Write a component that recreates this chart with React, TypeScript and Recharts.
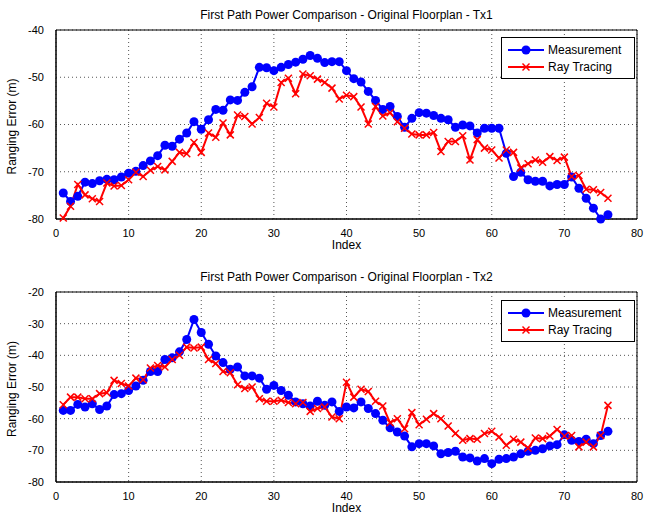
import { LineChart, Line, XAxis, YAxis, CartesianGrid, ReferenceArea } from 'recharts';

const indexes = Array.from({ length: 76 }, (_, i) => i + 1);

const measTx1 = [
    -74.5, -76.3, -75.2, -72.2, -72.5, -71.9, -71.6, -71.7, -71.1, -70.3,
    -69.9, -68.7, -67.7, -66.6, -64.4, -64.6, -63.1, -61.8, -59.4, -61.0,
    -59.0, -56.8, -57.0, -54.8, -54.9, -53.2, -52.0, -47.9, -48.0, -48.6,
    -47.9, -47.3, -46.8, -46.2, -45.4, -46.0, -46.9, -46.7, -46.7, -48.6,
    -50.3, -51.0, -53.0, -54.9, -56.8, -56.2, -58.3, -60.6, -58.7, -57.5,
    -57.6, -58.1, -58.7, -59.0, -60.6, -60.1, -60.3, -61.8, -60.8, -60.8,
    -60.8, -66.1, -71.0, -70.1, -71.7, -72.0, -72.0, -73.0, -72.7, -72.7,
    -71.1, -73.5, -75.6, -77.7, -80.0, -79.1,
];

const rayTx1 = [
    -79.8, -77.3, -72.7, -74.9, -75.7, -76.3, -72.4, -73.0, -72.9, -71.7,
    -70.1, -71.0, -69.7, -68.9, -69.6, -67.8, -65.9, -66.2, -63.8, -65.9,
    -61.8, -62.7, -59.7, -62.2, -58.0, -58.3, -59.9, -58.5, -55.5, -56.3,
    -51.1, -50.2, -53.5, -49.3, -49.7, -50.4, -51.1, -52.3, -54.6, -53.8,
    -54.1, -56.3, -59.9, -56.2, -58.2, -57.5, -59.4, -60.8, -62.0, -62.2,
    -62.2, -61.7, -65.7, -63.6, -63.6, -62.4, -67.5, -63.2, -65.0, -65.4,
    -67.1, -65.4, -65.9, -69.2, -68.3, -67.5, -68.0, -66.8, -67.6, -66.9,
    -71.0, -70.8, -73.7, -73.8, -74.4, -75.6,
];

const measTx2 = [
    -57.4, -57.4, -55.5, -56.3, -55.3, -57.1, -56.0, -52.4, -52.1, -51.1,
    -49.7, -47.9, -45.1, -45.1, -41.3, -40.8, -38.9, -35.0, -28.7, -32.8,
    -36.5, -40.2, -42.3, -44.4, -43.7, -46.5, -46.5, -47.2, -50.7, -49.5,
    -51.1, -52.6, -54.7, -55.3, -56.0, -54.5, -55.8, -54.7, -57.7, -56.3,
    -56.6, -54.7, -56.8, -58.4, -60.5, -62.9, -64.2, -65.5, -68.9, -67.9,
    -67.9, -68.6, -71.1, -70.7, -70.3, -72.1, -72.4, -73.4, -72.6, -74.2,
    -72.8, -72.6, -72.1, -71.1, -70.3, -70.0, -69.5, -68.6, -68.2, -65.1,
    -66.8, -67.2, -66.5, -67.9, -65.3, -64.0,
];

const rayTx2 = [
    -55.6, -53.2, -53.2, -53.7, -53.7, -52.1, -51.8, -47.9, -48.9, -49.7,
    -47.2, -47.7, -44.0, -43.2, -43.7, -41.3, -40.0, -37.4, -37.7, -37.4,
    -41.3, -42.6, -45.1, -45.5, -49.3, -50.5, -50.0, -53.7, -54.5, -54.5,
    -54.2, -54.9, -55.3, -54.9, -57.7, -56.8, -56.3, -59.5, -60.0, -48.5,
    -53.2, -50.7, -51.4, -54.5, -56.0, -61.3, -60.0, -63.2, -58.1, -61.9,
    -60.2, -58.4, -60.0, -62.3, -64.7, -66.8, -66.3, -66.5, -64.7, -64.0,
    -65.8, -68.4, -66.5, -67.4, -69.3, -66.1, -66.3, -65.5, -63.4, -65.5,
    -65.3, -68.9, -67.4, -68.9, -65.3, -55.8,
];

const xTicks = [0, 10, 20, 30, 40, 50, 60, 70, 80];
const yTicksTx1 = [-80, -70, -60, -50, -40];
const yTicksTx2 = [-80, -70, -60, -50, -40, -30, -20];

const FONT = '"Liberation Sans", Arial, sans-serif';
const BLUE = '#0000ff';
const RED = '#ff0000';

const CrossDot = (props: any) => {
    const { cx, cy } = props;
    if (cx == null || cy == null) return null;
    const s = 3.5;
    return (
        <g>
            <line x1={cx - s} y1={cy - s} x2={cx + s} y2={cy + s} stroke={RED} strokeWidth={1.5} />
            <line x1={cx - s} y1={cy + s} x2={cx + s} y2={cy - s} stroke={RED} strokeWidth={1.5} />
        </g>
    );
};

const LegendBox = ({ top }: { top: number }) => (
    <div style={{
        position: 'absolute', top, left: 501,
        border: '1px solid #000', background: '#fff', width: 134, height: 42,
        fontFamily: FONT, fontSize: 12, color: '#000', boxSizing: 'border-box', padding: '3px 4px',
    }}>
        <div style={{ display: 'flex', alignItems: 'center', height: 17 }}>
            <svg width={40} height={12}>
                <line x1={2} y1={6} x2={38} y2={6} stroke={BLUE} strokeWidth={2} />
                <circle cx={20} cy={6} r={4.5} fill={BLUE} />
            </svg>
            <span style={{ marginLeft: 2 }}>Measurement</span>
        </div>
        <div style={{ display: 'flex', alignItems: 'center', height: 17 }}>
            <svg width={40} height={12}>
                <line x1={2} y1={6} x2={38} y2={6} stroke={RED} strokeWidth={2} />
                <line x1={16.5} y1={2.5} x2={23.5} y2={9.5} stroke={RED} strokeWidth={1.5} />
                <line x1={16.5} y1={9.5} x2={23.5} y2={2.5} stroke={RED} strokeWidth={1.5} />
            </svg>
            <span style={{ marginLeft: 2 }}>Ray Tracing</span>
        </div>
    </div>
);

interface PanelProps {
    meas: number[];
    ray: number[];
    yTicks: number[];
    height: number;
    marginBottom: number;
}

const Panel = ({ meas, ray, yTicks, height, marginBottom }: PanelProps) => {
    const data = indexes.map((idx, i) => ({ idx, meas: meas[i], ray: ray[i] }));
    const yMin = yTicks[0];
    const yMax = yTicks[yTicks.length - 1];
    const tick = { fill: '#000', fontSize: 11, fontFamily: FONT };
    return (
        <LineChart width={647} height={height} data={data} margin={{ top: 30, right: 10, bottom: marginBottom, left: 0 }}>
            <CartesianGrid stroke="#555" strokeDasharray="1 3" />
            <XAxis
                dataKey="idx"
                type="number"
                domain={[0, 80]}
                ticks={xTicks}
                interval={0}
                tick={tick}
                tickLine={false}
                axisLine={{ stroke: '#000' }}
                height={30}
                tickMargin={4}
                label={{ value: 'Index', position: 'insideBottom', offset: 0, fill: '#000', fontSize: 12, fontFamily: FONT }}
            />
            <YAxis
                type="number"
                domain={[yMin, yMax]}
                ticks={yTicks}
                interval={0}
                tick={tick}
                tickLine={false}
                axisLine={{ stroke: '#000' }}
                width={56}
                tickMargin={6}
                label={{ value: 'Ranging Error (m)', angle: -90, position: 'insideLeft', offset: 12, dy: 50, fill: '#000', fontSize: 12, fontFamily: FONT }}
            />
            <ReferenceArea x1={0} x2={80} y1={yMin} y2={yMax} fill="none" stroke="#000" strokeWidth={1} ifOverflow="visible" />
            <Line
                dataKey="meas"
                stroke={BLUE}
                strokeWidth={2}
                dot={{ r: 4.5, fill: BLUE, stroke: BLUE, strokeWidth: 0 }}
                isAnimationActive={false}
            />
            <Line
                dataKey="ray"
                stroke={RED}
                strokeWidth={2}
                dot={<CrossDot />}
                isAnimationActive={false}
            />
        </LineChart>
    );
};

const titleStyle = (top: number): React.CSSProperties => ({
    position: 'absolute', top, left: 56, width: 581, textAlign: 'center',
    fontFamily: FONT, fontSize: 12, color: '#000',
});

export default function App() {
    return (
        <div style={{ position: 'absolute', left: 0, top: 0, width: 647, height: 516, background: '#fff' }}>
            <div style={titleStyle(8)}>First Path Power Comparison - Original Floorplan - Tx1</div>
            <div style={{ position: 'absolute', top: 0, left: 0 }}>
                <Panel meas={measTx1} ray={rayTx1} yTicks={yTicksTx1} height={258} marginBottom={9} />
            </div>
            <LegendBox top={37} />
            <div style={titleStyle(270)}>First Path Power Comparison - Original Floorplan - Tx2</div>
            <div style={{ position: 'absolute', top: 262, left: 0 }}>
                <Panel meas={measTx2} ray={rayTx2} yTicks={yTicksTx2} height={254} marginBottom={4} />
            </div>
            <LegendBox top={300} />
        </div>
    );
}
